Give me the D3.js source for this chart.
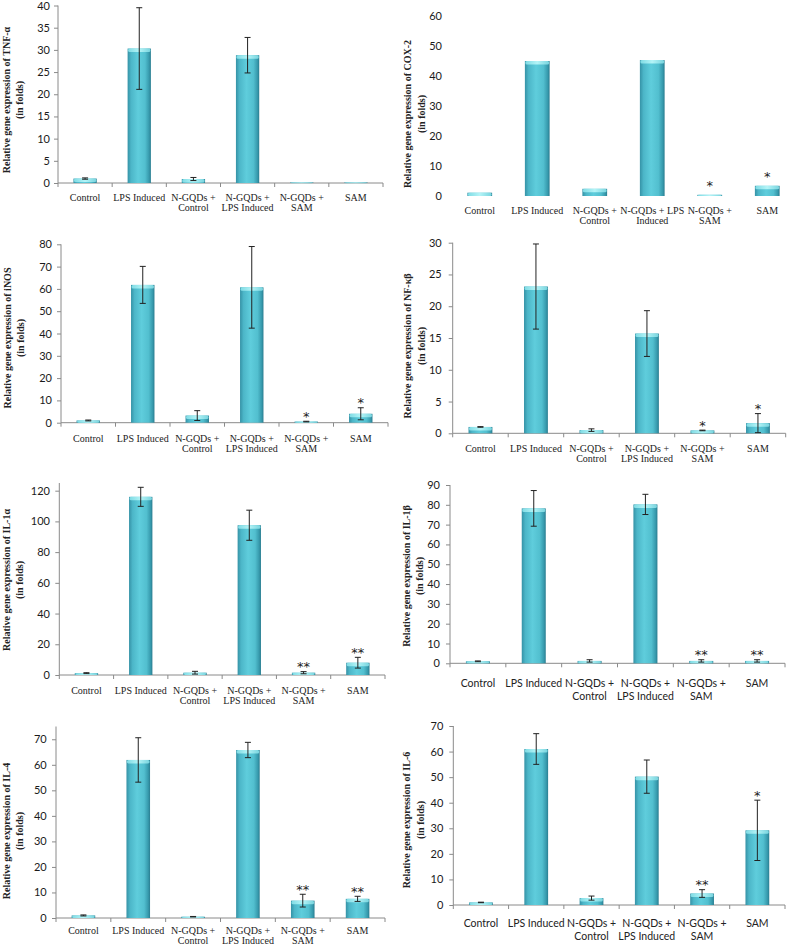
<!DOCTYPE html>
<html>
<head>
<meta charset="utf-8">
<script src="https://cdn.jsdelivr.net/npm/d3@7"></script>
<style>
  html, body { margin: 0; padding: 0; background: #fff; }
  svg { display: block; }
</style>
</head>
<body>
<svg id="chart" width="787" height="946"></svg>
<script>
// ---------------- DATA ----------------
const categories = ["Control", "LPS Induced", "N-GQDs + Control", "N-GQDs + LPS Induced", "N-GQDs + SAM", "SAM"];
const categoryLabels = [["Control"], ["LPS Induced"], ["N-GQDs +", "Control"], ["N-GQDs +", "LPS Induced"], ["N-GQDs +", "SAM"], ["SAM"]];
const categoryLabelsCox = [["Control"], ["LPS Induced"], ["N-GQDs +", "Control"], ["N-GQDs + LPS", "Induced"], ["N-GQDs +", "SAM"], ["SAM"]];

const tnfValues = [1.0, 30.3, 0.9, 28.8, 0.12, 0.12];
const tnfErrors = [0.15, 9.2, 0.35, 4.0, 0, 0];
const tnfStars  = ["", "", "", "", "", ""];
const tnfTicks  = [0, 5, 10, 15, 20, 25, 30, 35, 40];

const coxValues = [1.1, 45.0, 2.4, 45.3, 0.4, 3.4];
const coxErrors = [0, 0, 0, 0, 0, 0];
const coxStars  = ["", "", "", "", "*", "*"];
const coxTicks  = [0, 10, 20, 30, 40, 50, 60];

const inosValues = [1.0, 61.8, 3.2, 60.7, 0.5, 4.0];
const inosErrors = [0.2, 8.3, 2.2, 18.3, 0.15, 2.7];
const inosStars  = ["", "", "", "", "*", "*"];
const inosTicks  = [0, 10, 20, 30, 40, 50, 60, 70, 80];

const nfkbValues = [1.0, 23.1, 0.5, 15.7, 0.45, 1.6];
const nfkbErrors = [0.05, 6.7, 0.2, 3.6, 0.05, 1.5];
const nfkbStars  = ["", "", "", "", "*", "*"];
const nfkbTicks  = [0, 5, 10, 15, 20, 25, 30];

const il1aValues = [1.2, 116.0, 1.5, 97.5, 1.5, 8.0];
const il1aErrors = [0.3, 6.2, 0.9, 9.8, 0.7, 3.5];
const il1aStars  = ["", "", "", "", "**", "**"];
const il1aTicks  = [0, 20, 40, 60, 80, 100, 120];

const il1bValues = [1.0, 78.2, 1.2, 80.2, 1.2, 1.2];
const il1bErrors = [0.2, 9.0, 0.6, 5.1, 0.6, 0.6];
const il1bStars  = ["", "", "", "", "**", "**"];
const il1bTicks  = [0, 10, 20, 30, 40, 50, 60, 70, 80, 90];

const il4Values = [1.0, 61.9, 0.5, 65.8, 6.8, 7.5];
const il4Errors = [0.2, 8.7, 0.1, 3.0, 2.5, 1.0];
const il4Stars  = ["", "", "", "", "**", "**"];
const il4Ticks  = [0, 10, 20, 30, 40, 50, 60, 70];

const il6Values = [1.0, 61.0, 2.7, 50.2, 4.5, 29.2];
const il6Errors = [0.1, 6.0, 0.8, 6.5, 1.5, 11.8];
const il6Stars  = ["", "", "", "", "**", "*"];
const il6Ticks  = [0, 10, 20, 30, 40, 50, 60, 70];

const titles = [
  "Relative gene expression of TNF-α",
  "Relative gene expression of COX-2",
  "Relative gene expression of iNOS",
  "Relative gene expression of NF-κβ",
  "Relative gene expression of IL-1α",
  "Relative gene expression of IL-1β",
  "Relative gene expression of IL-4",
  "Relative gene expression of IL-6"
];
const subtitle = "(in folds)";

// ---------------- LAYOUT ----------------
const serif = "'Liberation Serif', 'Times New Roman', serif";
const sans = "Lato, 'Open Sans', 'Liberation Sans', sans-serif";

const panels = [
  { title: titles[0], values: tnfValues, errors: tnfErrors, stars: tnfStars, ticks: tnfTicks, labels: categoryLabels,
    max: 40, x0: 58, x1: 383, y0: 183, yTop: 5.5, tickRight: 50, lab1: 200.5, labGap: 10, labFont: serif, labSize: 10,
    tx1: 10, tx2: 23, ty: 100, axes: true },
  { title: titles[1], values: coxValues, errors: coxErrors, stars: coxStars, ticks: coxTicks, labels: categoryLabelsCox,
    max: 60, x0: 451, x1: 796, y0: 196, yTop: 16, tickRight: 442, lab1: 214, labGap: 10, labFont: serif, labSize: 10,
    tx1: 411, tx2: 425, ty: 114, axes: false },
  { title: titles[2], values: inosValues, errors: inosErrors, stars: inosStars, ticks: inosTicks, labels: categoryLabels,
    max: 80, x0: 61, x1: 388, y0: 422.7, yTop: 244.3, tickRight: 52, lab1: 442, labGap: 10, labFont: serif, labSize: 10,
    tx1: 11, tx2: 24, ty: 338, axes: true },
  { title: titles[3], values: nfkbValues, errors: nfkbErrors, stars: nfkbStars, ticks: nfkbTicks, labels: categoryLabels,
    max: 30, x0: 452.7, x1: 785.7, y0: 433.3, yTop: 242.7, tickRight: 441.7, lab1: 452, labGap: 10, labFont: serif, labSize: 10,
    tx1: 411, tx2: 425, ty: 346, axes: true },
  { title: titles[4], values: il1aValues, errors: il1aErrors, stars: il1aStars, ticks: il1aTicks, labels: categoryLabels,
    max: 125, x0: 59.3, x1: 385, y0: 675, yTop: 483, tickRight: 50, lab1: 693.5, labGap: 10, labFont: serif, labSize: 10,
    tx1: 10, tx2: 23, ty: 580, axes: true },
  { title: titles[5], values: il1bValues, errors: il1bErrors, stars: il1bStars, ticks: il1bTicks, labels: categoryLabels,
    max: 90, x0: 450, x1: 785, y0: 663.3, yTop: 485, tickRight: 440, lab1: 686.5, labGap: 13, labFont: sans, labSize: 10.5,
    tx1: 410, tx2: 423, ty: 576, axes: true },
  { title: titles[6], values: il4Values, errors: il4Errors, stars: il4Stars, ticks: il4Ticks, labels: categoryLabels,
    max: 75, x0: 56, x1: 385, y0: 918, yTop: 726.5, tickRight: 46.7, lab1: 933.5, labGap: 10, labFont: serif, labSize: 10,
    tx1: 10, tx2: 23, ty: 831, axes: true },
  { title: titles[7], values: il6Values, errors: il6Errors, stars: il6Stars, ticks: il6Ticks, labels: categoryLabels,
    max: 70, x0: 453.3, x1: 785, y0: 905, yTop: 726, tickRight: 443.3, lab1: 927, labGap: 13, labFont: sans, labSize: 10.5,
    tx1: 410, tx2: 424, ty: 820, axes: true }
];

const svg = d3.select("#chart");
const defs = svg.append("defs");

// cylinder-like gradient for bars
const grad = defs.append("linearGradient").attr("id", "barGrad")
  .attr("x1", "0%").attr("x2", "100%").attr("y1", "0%").attr("y2", "0%");
[["0%", "#3592a6"], ["15%", "#4cb6c8"], ["45%", "#5fcddc"], ["75%", "#52bfcf"], ["92%", "#379aad"], ["100%", "#2a7d90"]]
  .forEach(([o, c]) => grad.append("stop").attr("offset", o).attr("stop-color", c));
const capGrad = defs.append("linearGradient").attr("id", "capGrad")
  .attr("x1", "0%").attr("x2", "100%");
[["0%", "#7fdbe4"], ["50%", "#b4f4f7"], ["100%", "#78d4de"]]
  .forEach(([o, c]) => capGrad.append("stop").attr("offset", o).attr("stop-color", c));

panels.forEach(p => {
  const g = svg.append("g");
  const x = d3.scaleBand().domain(categories).range([p.x0, p.x1]).paddingInner(0).paddingOuter(0);
  const y = d3.scaleLinear().domain([0, p.max]).range([p.y0, p.yTop]);
  const barW = x.bandwidth() * 0.43;

  // Y axis
  const yAxis = d3.axisLeft(y).tickValues(p.ticks).tickSize(p.axes ? 4 : 0).tickPadding(p.axes ? 4 : 0).tickFormat(d3.format("d"));
  const ya = g.append("g").attr("transform", `translate(${p.x0},0)`).call(yAxis);
  ya.select(".domain").attr("stroke", p.axes ? "#8a8a8a" : "none").attr("d", `M-0,${p.yTop}V${p.y0}`);
  ya.selectAll(".tick line").attr("stroke", "#8a8a8a");
  ya.selectAll(".tick text").attr("text-anchor", "end")
    .attr("font-family", sans).attr("font-size", 11).attr("fill", "#1a1a1a")
    .attr("x", p.tickRight - p.x0);
  ya.attr("font-family", null).attr("font-size", null);

  // X axis
  if (p.axes) {
    g.append("line").attr("x1", p.x0).attr("x2", p.x1).attr("y1", p.y0).attr("y2", p.y0)
      .attr("stroke", "#8a8a8a").attr("stroke-width", 1);
    const bounds = categories.map(c => x(c)).concat([p.x1]);
    g.selectAll(".xt").data(bounds).join("line").attr("class", "xt")
      .attr("x1", d => d).attr("x2", d => d).attr("y1", p.y0).attr("y2", p.y0 + 4)
      .attr("stroke", "#8a8a8a");
  }

  // Bars
  const bars = g.selectAll(".bar").data(categories).join("g").attr("class", "bar");
  bars.append("rect")
    .attr("x", (c) => x(c) + (x.bandwidth() - barW) / 2)
    .attr("y", (c, i) => y(p.values[i]))
    .attr("width", barW)
    .attr("height", (c, i) => p.y0 - y(p.values[i]))
    .attr("fill", "url(#barGrad)");
  bars.append("rect")
    .attr("x", (c) => x(c) + (x.bandwidth() - barW) / 2 + 0.5)
    .attr("y", (c, i) => y(p.values[i]))
    .attr("width", barW - 1)
    .attr("height", (c, i) => Math.min(3.5, Math.max(0.8, p.y0 - y(p.values[i]))))
    .attr("rx", 1.5)
    .attr("fill", "url(#capGrad)");

  // Error bars
  categories.forEach((c, i) => {
    const e = p.errors[i];
    if (!e) return;
    const cx = x(c) + x.bandwidth() / 2;
    const yt = y(p.values[i] + e), yb = y(Math.max(0, p.values[i] - e));
    g.append("line").attr("x1", cx).attr("x2", cx).attr("y1", yt).attr("y2", yb).attr("stroke", "#222").attr("stroke-width", 1);
    [yt, yb].forEach(yy => g.append("line").attr("x1", cx - 3).attr("x2", cx + 3).attr("y1", yy).attr("y2", yy)
      .attr("stroke", "#222").attr("stroke-width", 1));
  });

  // Significance stars
  categories.forEach((c, i) => {
    const s = p.stars[i];
    if (!s) return;
    const cx = x(c) + x.bandwidth() / 2;
    const top = y(p.values[i] + (p.errors[i] || 0));
    g.append("text").attr("x", cx).attr("y", top + (p.errors[i] ? -0.5 : -4.5))
      .attr("text-anchor", "middle").attr("font-family", "'DejaVu Sans', sans-serif")
      .attr("font-size", 13).attr("fill", "#222").text(s);
  });

  // Category labels
  categories.forEach((c, i) => {
    const cx = x(c) + x.bandwidth() / 2;
    const t = g.append("text").attr("text-anchor", "middle").attr("font-family", p.labFont)
      .attr("font-size", p.labSize).attr("fill", "#222");
    p.labels[i].forEach((line, k) => {
      t.append("tspan").attr("x", cx).attr("y", p.lab1 + k * p.labGap).text(line);
    });
  });

  // Y title (two lines, rotated)
  g.append("text").attr("transform", `translate(${p.tx1},${p.ty}) rotate(-90)`)
    .attr("text-anchor", "middle").attr("font-family", serif).attr("font-weight", "bold")
    .attr("font-size", 10).attr("fill", "#222").text(p.title);
  g.append("text").attr("transform", `translate(${p.tx2},${p.ty}) rotate(-90)`)
    .attr("text-anchor", "middle").attr("font-family", serif).attr("font-weight", "bold")
    .attr("font-size", 10).attr("fill", "#222").text(subtitle);
});
</script>
</body>
</html>
